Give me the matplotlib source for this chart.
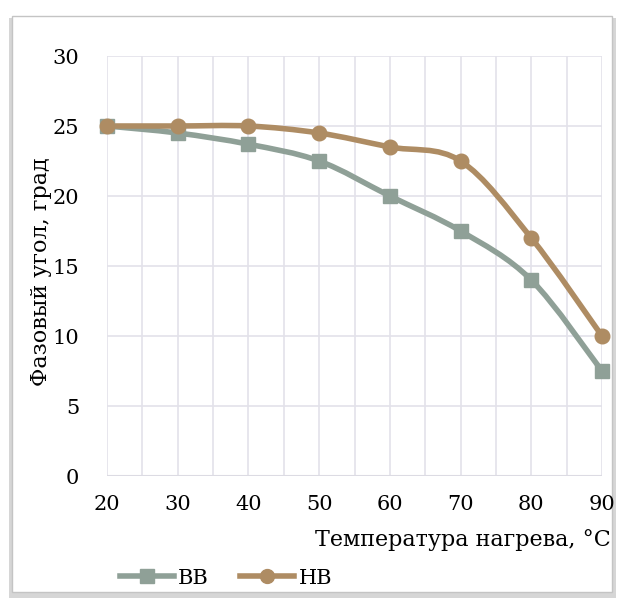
#!/usr/bin/python3

# Phase angle vs heating temperature, Excel-style smoothed lines.

import matplotlib

matplotlib.use("Agg")
import matplotlib.pyplot as plt
from matplotlib.path import Path
from matplotlib.patches import PathPatch, Rectangle
from matplotlib.ticker import MultipleLocator

temps = [20, 30, 40, 50, 60, 70, 80, 90]
vv = [25, 24.5, 23.7, 22.5, 20, 17.5, 14, 7.5]
nv = [25, 25, 25, 24.5, 23.5, 22.5, 17, 10]
series_names = ["ВВ", "НВ"]

VV_COLOR = "#8fa097"
NV_COLOR = "#ae8c63"
GRID = "#e3e2ea"

plt.rcParams["font.family"] = ["DejaVu Serif"]

W, H = 619, 601


def smooth_path(xs, ys, tension=1 / 6):
    """
    Bezier path through the points, like Excel's smoothed line.
    """
    pts = list(zip(xs, ys))
    verts = [pts[0]]
    codes = [Path.MOVETO]
    n = len(pts)
    for i in range(n - 1):
        p0 = pts[i - 1] if i > 0 else pts[i]
        p1 = pts[i]
        p2 = pts[i + 1]
        p3 = pts[i + 2] if i + 2 < n else pts[i + 1]
        c1 = (p1[0] + (p2[0] - p0[0]) * tension, p1[1] + (p2[1] - p0[1]) * tension)
        c2 = (p2[0] - (p3[0] - p1[0]) * tension, p2[1] - (p3[1] - p1[1]) * tension)
        verts += [c1, c2, p2]
        codes += [Path.CURVE4] * 3
    return Path(verts, codes)


fig = plt.figure(figsize=(W / 100, H / 100), dpi=100)
ax = fig.add_axes([107 / W, 1 - 476 / H, (602 - 107) / W, (476 - 56) / H])

# chart frame with a shadow
fig.patches.append(
    Rectangle((9 / W, 1 - 598 / H), 607 / W, 580 / H,
              transform=fig.transFigure, facecolor="#d6d6d6", edgecolor="none",
              zorder=-3)
)
fig.patches.append(
    Rectangle((12 / W, 1 - 592 / H), 600 / W, 576 / H,
              transform=fig.transFigure, facecolor="white", edgecolor="#c4c4c4",
              linewidth=1.0, zorder=-2)
)

for ys, color, marker, ms in [(vv, VV_COLOR, "s", 10), (nv, NV_COLOR, "o", 10.5)]:
    ax.add_patch(PathPatch(smooth_path(temps, ys), facecolor="none",
                           edgecolor=color, linewidth=4.0, capstyle="round",
                           zorder=3))
    ax.plot(temps, ys, linestyle="none", marker=marker, markersize=ms,
            color=color, zorder=4, clip_on=False)

ax.set_xlim(20, 90)
ax.set_ylim(0, 30)
ax.xaxis.set_major_locator(MultipleLocator(10))
ax.xaxis.set_minor_locator(MultipleLocator(5))
ax.yaxis.set_major_locator(MultipleLocator(5))
ax.grid(True, which="both", axis="x", color=GRID, linewidth=1.2)
ax.grid(True, which="major", axis="y", color=GRID, linewidth=1.2)
ax.set_axisbelow(True)
for s in ax.spines.values():
    s.set_visible(False)
ax.axhline(0, color="#dcdbe3", linewidth=1.5, zorder=1)
ax.tick_params(which="both", length=0, labelsize=15, colors="black")
ax.tick_params(axis="x", pad=14)
ax.tick_params(axis="y", pad=20)

ax.set_ylabel("Фазовый угол, град", fontsize=16)
ax.set_xlabel("Температура нагрева, °C", fontsize=16, ha="right")
ax.yaxis.set_label_coords((41 - 107) / (602 - 107), 0.5 - 6 / 420)
ax.xaxis.set_label_coords((611 - 107) / (602 - 107), -(540 - 476) / (476 - 56))
ax.xaxis.label.set_va("center")
ax.yaxis.label.set_va("center")

handles = [
    plt.Line2D([], [], color=VV_COLOR, marker="s", markersize=10, linewidth=4.0),
    plt.Line2D([], [], color=NV_COLOR, marker="o", markersize=10, linewidth=4.0),
]
fig.legend(handles, series_names, loc="center", bbox_to_anchor=(226 / W, 1 - 578 / H),
           ncols=2, frameon=False, fontsize=15, handlelength=2.6, columnspacing=1.5,
           handletextpad=0.2, borderpad=0)

fig.savefig("out.png", dpi=100)
